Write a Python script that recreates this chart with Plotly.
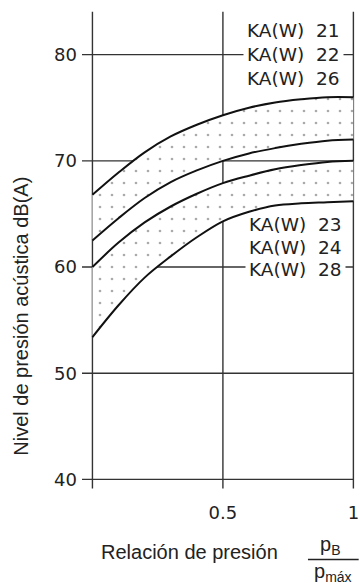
import plotly.graph_objects as go

# ---- data ----
pressure_ratio = [0.0, 0.1, 0.2, 0.3, 0.4, 0.5, 0.6, 0.7, 0.8, 0.9, 1.0]
upper_band_max = [66.8, 68.9, 70.8, 72.3, 73.4, 74.3, 75.0, 75.5, 75.8, 76.0, 76.0]
upper_band_min = [62.5, 64.6, 66.5, 68.0, 69.1, 70.0, 70.7, 71.2, 71.6, 71.9, 72.0]
lower_band_max = [60.0, 62.3, 64.2, 65.7, 66.9, 67.9, 68.6, 69.2, 69.6, 69.9, 70.0]
lower_band_min = [53.4, 56.4, 59.0, 61.0, 62.8, 64.3, 65.2, 65.8, 66.0, 66.1, 66.2]
y_ticks = [40, 50, 60, 70, 80]
x_grid = [0, 0.5, 1]
x_ticks = [0.5, 1]
x_tick_labels = ["0.5", "1"]
upper_labels = ["KA(W)&nbsp;&nbsp;21", "KA(W)&nbsp;&nbsp;22", "KA(W)&nbsp;&nbsp;26"]
upper_label_y = [82.26, 80.0, 77.74]
lower_labels = ["KA(W)&nbsp;&nbsp;23", "KA(W)&nbsp;&nbsp;24", "KA(W)&nbsp;&nbsp;28"]
lower_label_y = [63.96, 61.86, 59.8]

W, H = 360, 583
XR = [-0.04, 1.01]
YR = [39.0, 84.3]
ML, MR, MT, MB = 82.1, 0.7, 9.4, 93.4
pw = W - ML - MR
ph = H - MT - MB

def px_x(px):
    return (px - ML) / pw

def px_y(py):
    return 1 - (py - MT) / ph

ink = "#111111"
grid = "#333333"

fig = go.Figure()

pattern = dict(shape=".", size=12, solidity=0.04, fgcolor="#555555", bgcolor="white")

fig.add_trace(go.Scatter(x=pressure_ratio, y=upper_band_min, mode="lines",
                         line=dict(color=ink, width=2, shape="spline"),
                         hoverinfo="skip", showlegend=False))
fig.add_trace(go.Scatter(x=pressure_ratio, y=upper_band_max, mode="lines",
                         line=dict(color=ink, width=2, shape="spline"),
                         fill="tonexty", fillpattern=pattern, fillcolor="white",
                         hoverinfo="skip", showlegend=False))
fig.add_trace(go.Scatter(x=pressure_ratio, y=lower_band_min, mode="lines",
                         line=dict(color=ink, width=2, shape="spline"),
                         hoverinfo="skip", showlegend=False))
fig.add_trace(go.Scatter(x=pressure_ratio, y=lower_band_max, mode="lines",
                         line=dict(color=ink, width=2, shape="spline"),
                         fill="tonexty", fillpattern=pattern, fillcolor="white",
                         hoverinfo="skip", showlegend=False))

shapes = []
for yv in y_ticks:
    shapes.append(dict(type="line", xref="x", yref="y", x0=XR[0], x1=1, y0=yv, y1=yv,
                       line=dict(color=grid, width=1.4), layer="below"))
for xv in x_grid:
    shapes.append(dict(type="line", xref="x", yref="y", x0=xv, x1=xv, y0=39.15, y1=84.05,
                       line=dict(color=grid, width=1.4), layer="below"))
# fraction bar
shapes.append(dict(type="line", xref="paper", yref="paper",
                   x0=px_x(310.7), x1=px_x(362), y0=px_y(559), y1=px_y(559),
                   line=dict(color="#222222", width=1.3)))

annotations = []
lab_font = dict(family="DejaVu Sans", size=18.5, color="#222222")
for t, yv in zip(upper_labels, upper_label_y):
    annotations.append(dict(x=0.592, y=yv, xref="x", yref="y", text=t, showarrow=False,
                            xanchor="left", yanchor="middle", font=lab_font,
                            bgcolor="white", borderpad=3, xshift=-4))
for t, yv in zip(lower_labels, lower_label_y):
    annotations.append(dict(x=0.6, y=yv, xref="x", yref="y", text=t, showarrow=False,
                            xanchor="left", yanchor="middle", font=lab_font,
                            bgcolor="white" if t.endswith("28") else None, borderpad=3, xshift=-4))

title_font = dict(family="Liberation Sans", size=20, color="#222222")
annotations.append(dict(x=px_x(20), y=px_y(316), xref="paper", yref="paper",
                        text="Nivel de presión acústica dB(A)", textangle=-90,
                        showarrow=False, font=title_font, xanchor="center", yanchor="middle"))
annotations.append(dict(x=px_x(191), y=px_y(551.7), xref="paper", yref="paper",
                        text="Relación de presión", showarrow=False, font=title_font,
                        xanchor="center", yanchor="middle"))
annotations.append(dict(x=px_x(333), y=px_y(545), xref="paper", yref="paper",
                        text="p<sub>B</sub>", showarrow=False, font=title_font,
                        xanchor="center", yanchor="middle"))
annotations.append(dict(x=px_x(336), y=px_y(572), xref="paper", yref="paper",
                        text="p<sub>máx</sub>", showarrow=False, font=title_font,
                        xanchor="center", yanchor="middle"))

fig.update_layout(
    width=W, height=H,
    margin=dict(l=ML, r=MR, t=MT, b=MB, pad=0),
    paper_bgcolor="white", plot_bgcolor="white",
    shapes=shapes, annotations=annotations,
    xaxis=dict(range=XR, showgrid=False, zeroline=False, showline=False,
               tickmode="array", tickvals=x_ticks, ticktext=x_tick_labels,
               ticks="", ticklabelstandoff=10, ticklabeloverflow="allow",
               tickfont=dict(family="DejaVu Sans", size=18, color="#222222")),
    yaxis=dict(range=YR, showgrid=False, zeroline=False, showline=False,
               tickmode="array", tickvals=y_ticks, ticks="", ticklabelstandoff=4,
               tickfont=dict(family="DejaVu Sans", size=18, color="#222222")),
)

fig.write_html("out.html")
